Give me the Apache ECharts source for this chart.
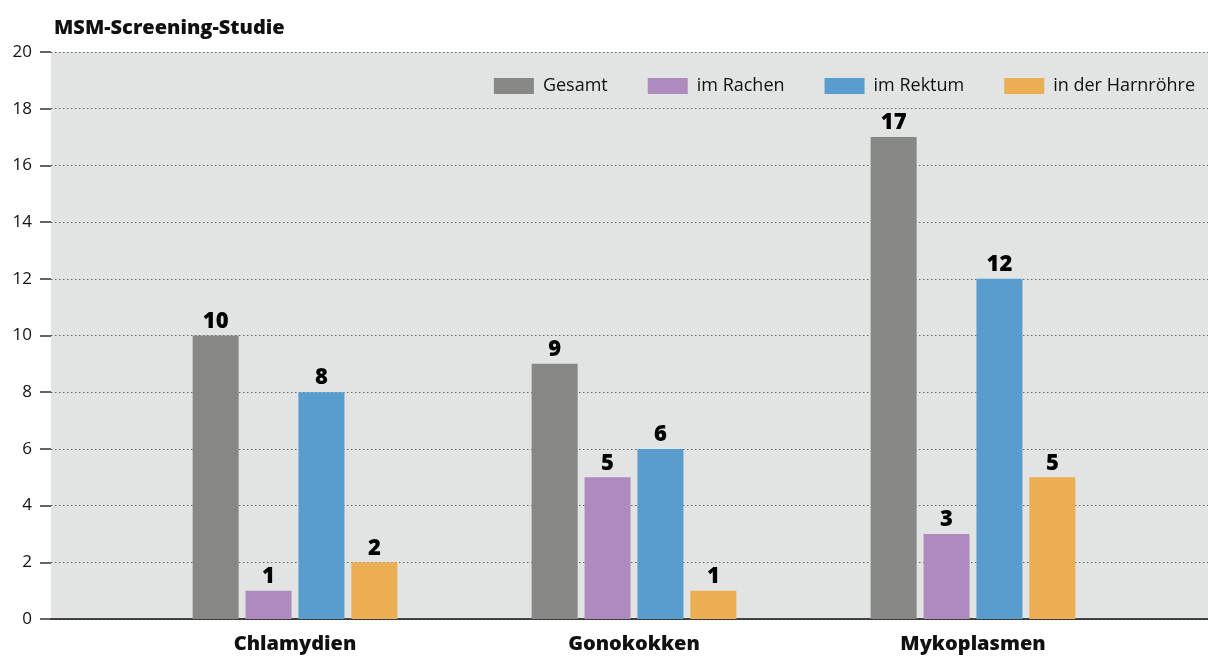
<!DOCTYPE html>
<html><head><meta charset="utf-8">
<script src="https://cdn.jsdelivr.net/npm/echarts@6/dist/echarts.min.js"></script>
<style>html,body{margin:0;padding:0;background:#fff}#c{width:1208px;height:657px}</style>
</head><body><div id="c"></div>
<script>
const categories = ['Chlamydien', 'Gonokokken', 'Mykoplasmen'];
const seriesNames = ['Gesamt', 'im Rachen', 'im Rektum', 'in der Harnröhre'];
const gesamt = [10, 9, 17];
const rachen = [1, 5, 3];
const rektum = [8, 6, 12];
const harnroehre = [2, 1, 5];
const colors = ['#878886', '#AE8ABE', '#599DCF', '#EBAE53'];
const yTicks = [0, 2, 4, 6, 8, 10, 12, 14, 16, 18, 20];

const font = '"Open Sans", "Noto Sans", sans-serif';
const values = [gesamt, rachen, rektum, harnroehre];
const chart = echarts.init(document.getElementById('c'), null, {renderer: 'canvas'});
chart.setOption({
  animation: false,
  textStyle: {fontFamily: font},
  title: {text: 'MSM-Screening-Studie', left: 49, top: 13,
    textStyle: {fontFamily: font, fontWeight: 800, fontSize: 20, color: '#111'}},
  legend: {
    data: seriesNames, right: 8, top: 72, itemWidth: 40, itemHeight: 16, itemGap: 40,
    icon: 'rect', textStyle: {fontFamily: font, fontSize: 18, color: '#111', padding: [0, 0, 0, 4]}
  },
  grid: [
    {left: 51, right: 0, top: 52, bottom: 38, show: true, backgroundColor: '#E2E3E3', borderWidth: 0},
    {left: 125.5, right: 65.5, top: 52, bottom: 38}
  ],
  xAxis: [
    {gridIndex: 0, type: 'category', data: [''], axisLabel: {show: false}, axisTick: {show: false},
      axisLine: {lineStyle: {color: '#111', width: 1.5}}},
    {gridIndex: 1, type: 'category', data: categories, axisTick: {show: false}, axisLine: {show: false},
      axisLabel: {fontFamily: font, fontWeight: 800, fontSize: 20, color: '#111', margin: 15}}
  ],
  yAxis: [
    {gridIndex: 0, type: 'value', min: yTicks[0], max: yTicks[yTicks.length - 1], interval: 2,
      axisLine: {show: false},
      axisTick: {show: true, length: 11, lineStyle: {color: '#333', width: 1.5}},
      axisLabel: {fontFamily: font, fontSize: 17, fontWeight: 500, color: '#111', margin: 19},
      splitLine: {show: true, lineStyle: {color: '#666', type: [1.5, 2.5], width: 1}}},
    {gridIndex: 1, type: 'value', min: yTicks[0], max: yTicks[yTicks.length - 1], interval: 2, show: false}
  ],
  series: seriesNames.map((n, i) => ({
    name: n, type: 'bar', xAxisIndex: 1, yAxisIndex: 1, data: values[i],
    barWidth: 46, barGap: '15%', itemStyle: {color: colors[i]},
    label: {show: true, position: 'top', distance: 3, fontFamily: font, fontWeight: 800, fontSize: 22, color: '#000'}
  }))
});
</script></body></html>
